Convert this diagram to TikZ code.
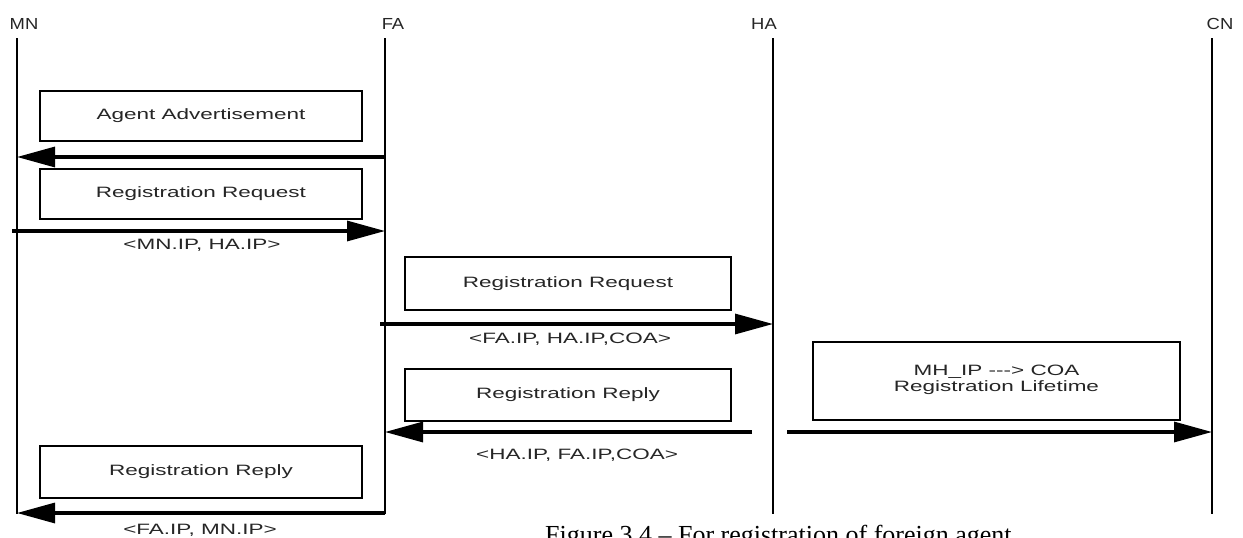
\documentclass[tikz,border=0pt]{standalone}
\usepackage{fontspec}
\setmainfont{Liberation Serif}
\newfontfamily\labfont[FakeStretch=1.5]{Liberation Sans}
\newfontfamily\hdfont[FakeStretch=1.15]{Liberation Sans}
\usetikzlibrary{arrows.meta}
\begin{document}
\begin{tikzpicture}[x=1pt,y=-1pt,
  life/.style={line width=1.6pt},
  msgbox/.style={draw, line width=1.1pt, inner sep=0pt, align=center,
    font=\labfont\fontsize{15}{17}\selectfont, text=black!85},
  msg/.style={line width=3.2pt, -{Triangle[length=38pt,width=20pt]}},
  lbl/.style={font=\labfont\fontsize{15}{17}\selectfont, text=black!85, inner sep=0pt},
  hd/.style={font=\hdfont\fontsize{16}{18}\selectfont, text=black!85, inner sep=0pt}]
\useasboundingbox (0,0) rectangle (1243,538);
\fill[white] (0,0) rectangle (1243,538);

% headers
\node[hd] (hMN) at (24,24) {MN};
\node[hd] (hFA) at (393,24) {FA};
\node[hd] (hHA) at (764,24) {HA};
\node[hd] (hCN) at (1220,24) {CN};

% lifelines
\coordinate (MNt) at (17,38);   \coordinate (MNb) at (17,514);
\coordinate (FAt) at (385,38);  \coordinate (FAb) at (385,514);
\coordinate (HAt) at (773,38);  \coordinate (HAb) at (773,514);
\coordinate (CNt) at (1212,38); \coordinate (CNb) at (1212,514);
\draw[life] (MNt) -- (MNb);
\draw[life] (FAt) -- (FAb);
\draw[life] (HAt) -- (HAb);
\draw[life] (CNt) -- (CNb);

% boxes
\node[msgbox, minimum width=322pt, minimum height=50pt] (b1) at (201,116) {Agent Advertisement};
\node[msgbox, minimum width=322pt, minimum height=50pt] (b2) at (201,194) {Registration Request};
\node[msgbox, minimum width=326pt, minimum height=53pt] (b3) at (568,283.5) {Registration Request};
\node[msgbox, minimum width=326pt, minimum height=52pt] (b4) at (568,395) {Registration Reply};
\node[msgbox, minimum width=367pt, minimum height=78pt] (b5) at (996.5,381) {};
\node[lbl, align=center, font=\labfont\fontsize{15}{15.5}\selectfont] (b5t) at (996.5,380) {MH\_IP -{}-{}-{}> COA\\Registration Lifetime};
\node[msgbox, minimum width=322pt, minimum height=52pt] (b6) at (201,472) {Registration Reply};

% arrows
\coordinate (a1s) at (385,157);  \coordinate (a1e) at (17,157);
\coordinate (a2s) at (12,231);   \coordinate (a2e) at (385,231);
\coordinate (a3s) at (380,324);  \coordinate (a3e) at (773,324);
\coordinate (a4s) at (752,432);  \coordinate (a4e) at (385,432);
\coordinate (a5s) at (787,432);  \coordinate (a5e) at (1212,432);
\coordinate (a6s) at (385,513);  \coordinate (a6e) at (17,513);
\draw[msg] (a1s) -- (a1e);
\draw[msg] (a2s) -- (a2e);
\draw[msg] (a3s) -- (a3e);
\draw[msg] (a4s) -- (a4e);
\draw[msg] (a5s) -- (a5e);
\draw[msg] (a6s) -- (a6e);

% arrow labels
\node[lbl] (l2) at (202,245) {<MN.IP, HA.IP>};
\node[lbl] (l3) at (570,339) {<FA.IP, HA.IP,COA>};
\node[lbl] (l4) at (577,455) {<HA.IP, FA.IP,COA>};
\node[lbl] (l6) at (200,530) {<FA.IP, MN.IP>};

% caption (cut by the page edge, as in the reference)
\node[anchor=base west, inner sep=0pt, font=\fontsize{26}{28}\selectfont] (cap) at (545,543) {Figure 3.4 – For registration of foreign agent};
\end{tikzpicture}
\end{document}
